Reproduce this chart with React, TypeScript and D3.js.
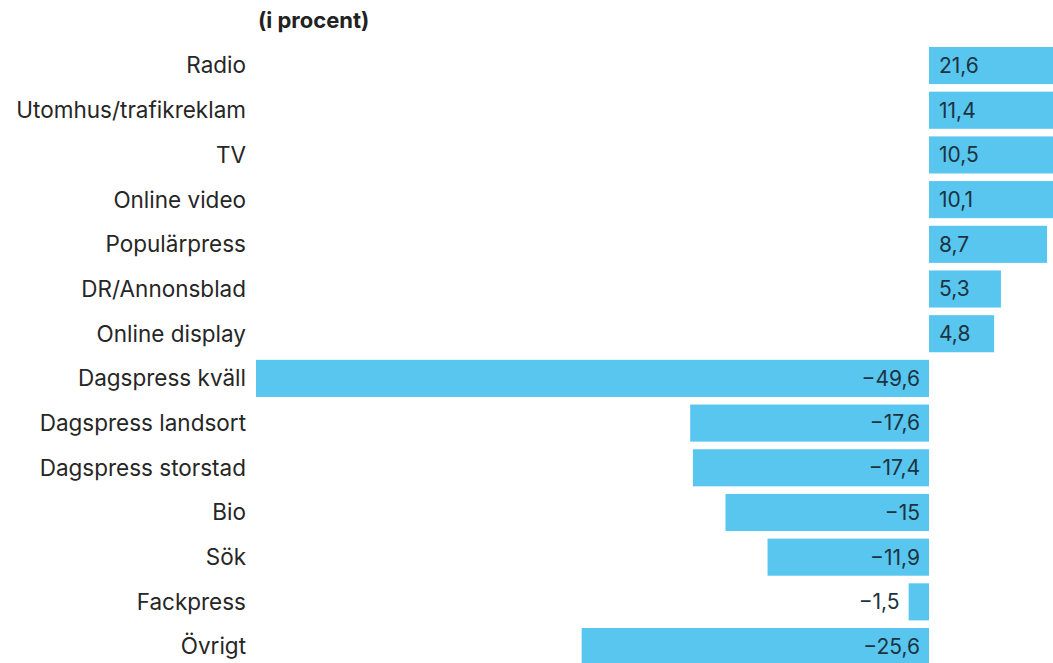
import React from "react";
import * as d3 from "d3";

const categories = [
  "Radio",
  "Utomhus/trafikreklam",
  "TV",
  "Online video",
  "Populärpress",
  "DR/Annonsblad",
  "Online display",
  "Dagspress kväll",
  "Dagspress landsort",
  "Dagspress storstad",
  "Bio",
  "Sök",
  "Fackpress",
  "Övrigt",
];

const values = [21.6, 11.4, 10.5, 10.1, 8.7, 5.3, 4.8, -49.6, -17.6, -17.4, -15, -11.9, -1.5, -25.6];

const title = "(i procent)";

const W = 1053;
const H = 663;
const FONT = "Inter, 'Noto Sans', sans-serif";
const BAR = "#58c6ef";

const fmt = (v: number) => (v < 0 ? "\u2212" : "") + String(Math.abs(v)).replace(".", ",");

export default function App() {
  // zero line sits at 929, the -49,6 bar reaches 256; positive side is cropped by the frame
  const x = d3.scaleLinear().domain([-49.6, 0]).range([256, 929]);
  const y = d3
    .scaleBand<string>()
    .domain(categories)
    .range([47, 47 + 12 * 44.7 + 37 + 44.7])
    .paddingInner(0.17)
    .paddingOuter(0);

  return (
    <svg
      width={W}
      height={H}
      style={{ position: "absolute", left: 0, top: 0, background: "#fff" }}
      fontFamily={FONT}
    >
      <text x={258} y={28} fontSize={22} fontWeight={700} fill="#222">
        {title}
      </text>
      {categories.map((c, i) => {
        const v = values[i];
        const y0 = y(c)!;
        const bh = y.bandwidth();
        const x0 = Math.min(x(0), x(v));
        const bw = Math.abs(x(v) - x(0));
        const cy = y0 + bh / 2;
        const inside = bw > 60;
        let lx: number;
        let anchor: "start" | "end";
        if (v >= 0) {
          lx = x(0) + 10;
          anchor = "start";
        } else {
          lx = inside ? x(0) - 9 : x0 - 9;
          anchor = "end";
        }
        return (
          <g key={c}>
            <text x={246} y={cy} dy="0.35em" textAnchor="end" fontSize={22.5} fill="#262626">
              {c}
            </text>
            <rect x={x0} y={y0} width={bw} height={bh} fill={BAR} />
            <text x={lx} y={cy} dy="0.35em" textAnchor={anchor} fontSize={21} fill="#1c3340">
              {fmt(v)}
            </text>
          </g>
        );
      })}
    </svg>
  );
}
